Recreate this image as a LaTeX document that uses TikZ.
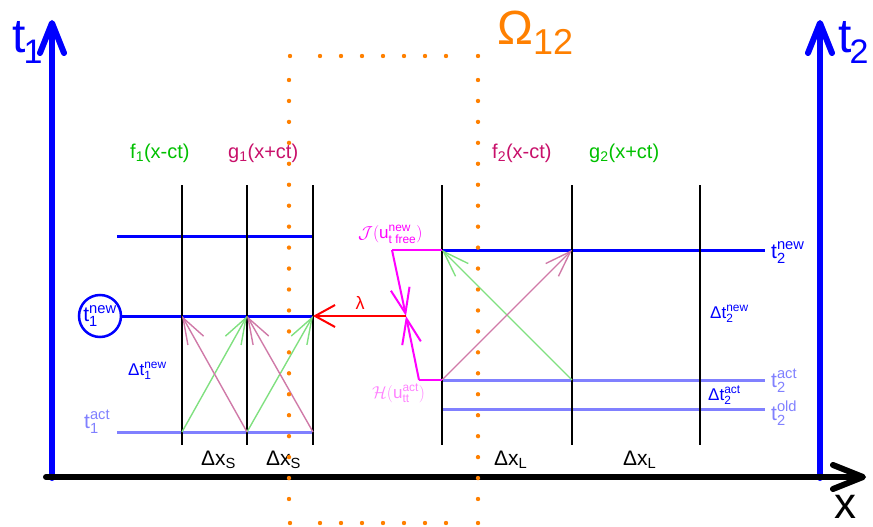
\documentclass[tikz,border=0pt]{standalone}
\usepackage{amsmath}
\usepackage{fontspec}
\setmainfont{Liberation Sans}
\usetikzlibrary{arrows.meta}
\definecolor{tblue}{HTML}{0000FF}
\definecolor{lblue}{HTML}{8080FF}
\definecolor{fgreen}{HTML}{00C000}
\definecolor{agreen}{HTML}{80E080}
\definecolor{apink}{HTML}{D07AA8}
\definecolor{rasp}{HTML}{C8106A}
\definecolor{orng}{HTML}{FF8000}
\definecolor{mag}{HTML}{FF00FF}
\definecolor{lmag}{HTML}{FF80FF}
\newcommand\fsz[1]{\fontsize{#1}{#1}\selectfont}
\newcommand\tlab[3]{$\text{#1}^{\text{#2}}_{\text{#3}}$}
\begin{document}
\begin{tikzpicture}[x=1pt,y=-1pt,
  axisline/.style={line width=6pt,line cap=round,-{Straight Barb[length=30pt,width=24pt,line cap=round,line join=round]}},
  gridline/.style={line width=2.5pt,black},
  newlvl/.style={line width=3pt,tblue},
  actlvl/.style={line width=3pt,lblue},
  wavearrow/.style={line width=1.4pt,-{Straight Barb[length=26pt,width=18pt]}},
  lbl/.style={inner sep=0pt,anchor=base west},
]
\useasboundingbox (0,0) rectangle (873,527);

% axes
\coordinate (t1b) at (52,478); \coordinate (t1t) at (52,20);
\coordinate (t2b) at (820,478); \coordinate (t2t) at (820,20);
\coordinate (xl) at (46,477); \coordinate (xr) at (866,477);
\draw[axisline,tblue] (t1b) -- (t1t);
\draw[axisline,tblue] (t2b) -- (t2t);
\draw[axisline,black] (xl) -- (xr);
\node[lbl,tblue] (t1lab) at (12,53) {\fsz{48}t\kern-2pt\raisebox{-11pt}{\fsz{34}1}};
\node[lbl,tblue] (t2lab) at (838,53) {\fsz{48}t\kern-2pt\raisebox{-11pt}{\fsz{34}2}};
\node[lbl] (xlab) at (834,518) {\fsz{44}x};
\node[lbl,orng] (omega) at (497,45) {\fsz{48}Ω\raisebox{-10pt}{\fsz{36}12}};

% key points
\coordinate (S-t) at (117,236);
\coordinate (S-a) at (117,432);
\foreach \k/\x in {1/182,2/247,3/313}{
  \coordinate (L\k-t) at (\x,236);
  \coordinate (L\k-n) at (\x,316);
  \coordinate (L\k-a) at (\x,432);
  \coordinate (L\k-top) at (\x,185);
  \coordinate (L\k-bot) at (\x,445);
}
\foreach \k/\x in {1/442,2/572,3/700}{
  \coordinate (R\k-n) at (\x,250);
  \coordinate (R\k-a) at (\x,380);
  \coordinate (R\k-o) at (\x,409);
  \coordinate (R\k-top) at (\x,185);
  \coordinate (R\k-bot) at (\x,445);
}
\coordinate (E-n) at (765,250);
\coordinate (E-a) at (765,380);
\coordinate (E-o) at (765,409);

% horizontal levels
\node[circle,draw=tblue,line width=2.5pt,minimum size=42pt,inner sep=0pt,tblue] (t1new) at (100,316) {\fsz{21}\tlab{t}{new}{1}};
\draw[newlvl] (S-t) -- (L3-t);
\draw[newlvl] (t1new) -- (L3-n);
\draw[actlvl] (S-a) -- (L3-a);
\draw[newlvl] (R1-n) -- (E-n);
\draw[actlvl] (R1-a) -- (E-a);
\draw[actlvl] (R1-o) -- (E-o);

% vertical grid lines
\foreach \n in {L1,L2,L3,R1,R2,R3}{\draw[gridline] (\n-top) -- (\n-bot);}

% characteristics
\draw[wavearrow,agreen] (L1-a) -- (L2-n);
\draw[wavearrow,agreen] (L2-a) -- (L3-n);
\draw[wavearrow,apink] (L2-a) -- (L1-n);
\draw[wavearrow,apink] (L3-a) -- (L2-n);
\draw[wavearrow,agreen] (R2-a) -- (R1-n);
\draw[wavearrow,apink] (R1-a) -- (R2-n);

% coupling
\coordinate (jtop) at (392,250);
\coordinate (hbot) at (419,380);
\coordinate (meet) at (406,316);
\draw[mag,line width=2pt] (R1-n) -- (jtop);
\draw[mag,line width=2pt,-{Straight Barb[length=25pt,width=19pt]}] (jtop) -- (meet);
\draw[mag,line width=2pt,-{Straight Barb[length=25pt,width=19pt]}] (hbot) -- (meet);
\draw[mag,line width=2pt] (hbot) -- (R1-a);
\draw[red,line width=2pt,-{Straight Barb[length=20pt,width=22pt]}] (meet) -- (L3-n);
\node[red,anchor=center,inner sep=0pt] (lam) at (360,303) {\fsz{18}λ};
\node[lbl,mag] (jlab) at (358,238) {\fsz{17}$\mathcal{J}(\text{u}^{\text{new}}_{\text{t free}})$};
\node[lbl,lmag] (hlab) at (372,398) {\fsz{17}$\mathcal{H}(\text{u}^{\text{act}}_{\text{tt}})$};

% function labels
\node[lbl,fgreen] (f1) at (130,158) {\fsz{20}f\textsubscript{1}(x-ct)};
\node[lbl,rasp] (g1) at (228,158) {\fsz{20}g\textsubscript{1}(x+ct)};
\node[lbl,rasp] (f2) at (492,158) {\fsz{20}f\textsubscript{2}(x-ct)};
\node[lbl,fgreen] (g2) at (589,158) {\fsz{20}g\textsubscript{2}(x+ct)};

% level labels
\node[lbl,lblue] (t1act) at (84,428) {\fsz{21}\tlab{t}{act}{1}};
\node[lbl,tblue] (dt1) at (128,375) {\fsz{17}Δ\tlab{t}{new}{1}};
\node[lbl,tblue] (t2new) at (771,258) {\fsz{21}\tlab{t}{new}{2}};
\node[lbl,lblue] (t2act) at (771,387) {\fsz{21}\tlab{t}{act}{2}};
\node[lbl,lblue] (t2old) at (771,420) {\fsz{21}\tlab{t}{old}{2}};
\node[lbl,tblue] (dt2n) at (710,318) {\fsz{17}Δ\tlab{t}{new}{2}};
\node[lbl,tblue] (dt2a) at (708,400) {\fsz{17}Δ\tlab{t}{act}{2}};

% spacing labels
\node[lbl] (dxs1) at (201,465) {\fsz{21}Δx\textsubscript{S}};
\node[lbl] (dxs2) at (266,465) {\fsz{21}Δx\textsubscript{S}};
\node[lbl] (dxl1) at (494,465) {\fsz{21}Δx\textsubscript{L}};
\node[lbl] (dxl2) at (623,465) {\fsz{21}Δx\textsubscript{L}};

% orange dotted boundary of Omega_12
\foreach \x in {290,320,341,362,383,404,425,446,478}{
  \fill[orng] (\x,56) circle (2.2pt);
  \fill[orng] (\x,523) circle (2.2pt);
}
\foreach \k in {0,...,20}{
  \fill[orng] (289,80+20.95*\k) circle (2.2pt);
  \fill[orng] (478,80+20.95*\k) circle (2.2pt);
}
\end{tikzpicture}
\end{document}
